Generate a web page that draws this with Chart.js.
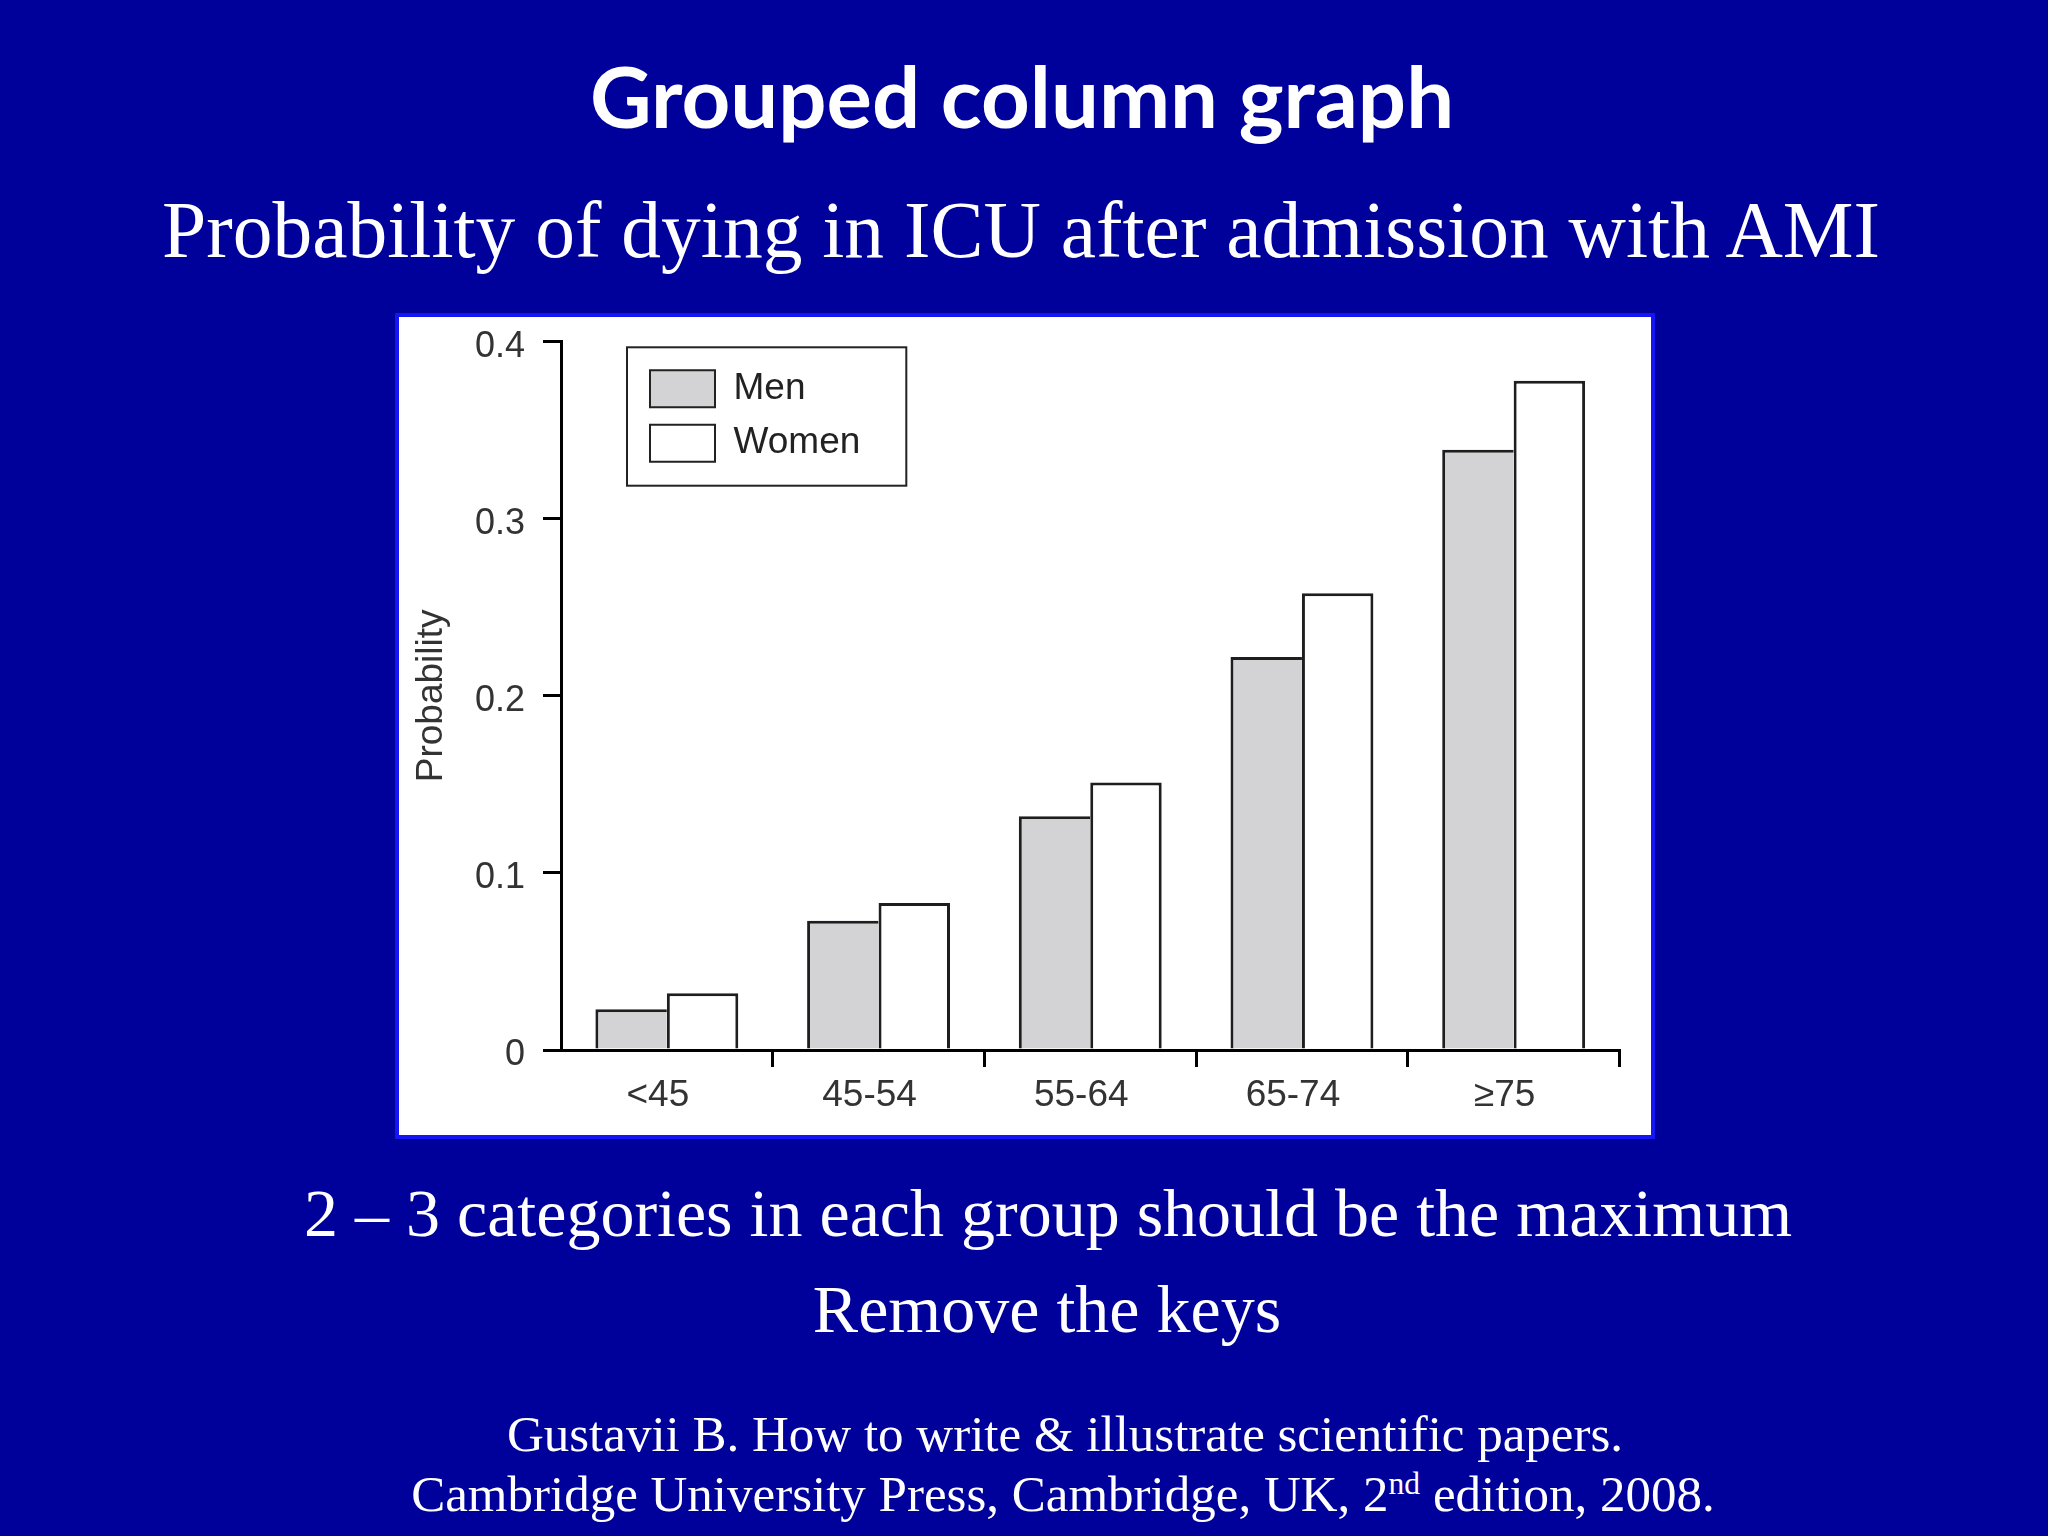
<!DOCTYPE html>
<html>
<head>
<meta charset="utf-8">
<script src="https://cdn.jsdelivr.net/npm/chart.js@4.4.1/dist/chart.umd.min.js"></script>
<style>
html,body{margin:0;padding:0;}
body{width:2048px;height:1536px;background:#00009a;position:relative;overflow:hidden;}
.t{position:absolute;width:2000px;text-align:center;color:#fff;white-space:nowrap;}
.serif{font-family:"Liberation Serif","Times New Roman",serif;}
#title{font-family:Lato,"Open Sans",sans-serif;font-weight:700;font-size:85px;line-height:85px;left:22px;top:53px;}
#sub{font-size:79.5px;line-height:80px;left:21px;top:190px;}
#l3{font-size:68px;line-height:68px;left:48px;top:1179px;}
#l4{font-size:68px;line-height:68px;left:47px;top:1275px;}
#l5{font-size:51px;line-height:52px;left:65px;top:1408px;}
#l6{font-size:51px;line-height:52px;left:63px;top:1468px;}
sup{font-size:0.62em;vertical-align:baseline;position:relative;top:-0.55em;line-height:0;}
#panel{position:absolute;left:395px;top:313px;width:1252px;height:818px;border:4px solid #1414f5;background:#fff;}
#wrap{position:relative;width:1252px;height:818px;}
</style>
</head>
<body>
<div class="t" id="title">Grouped column graph</div>
<div class="t serif" id="sub">Probability of dying in ICU after admission with AMI</div>
<div id="panel"><div id="wrap"><canvas id="c"></canvas></div></div>
<div class="t serif" id="l3">2 – 3 categories in each group should be the maximum</div>
<div class="t serif" id="l4">Remove the keys</div>
<div class="t serif" id="l5">Gustavii B. How to write &amp; illustrate scientific papers.</div>
<div class="t serif" id="l6">Cambridge University Press, Cambridge, UK, 2<sup>nd</sup> edition, 2008.</div>
<script>
const categories = ['<45', '45-54', '55-64', '65-74', '\u226575'];
const seriesNames = ['Men', 'Women'];
const menValues = [0.023, 0.073, 0.132, 0.222, 0.339];
const womenValues = [0.032, 0.083, 0.151, 0.258, 0.378];
const yTickLabels = ['0', '0.1', '0.2', '0.3', '0.4'];
const yAxisTitle = 'Probability';

const FONT = '"Liberation Sans", Arial, Helvetica, sans-serif';
Chart.defaults.font.family = FONT;

const legendFrame = {
  id: 'legendFrame',
  afterLayout(chart) {
    const lg = chart.legend, ca = chart.chartArea;
    if (!lg || !ca) return;
    lg.left = ca.left + 71.6;
    lg.top = ca.top + 11.2;
    lg.right = lg.left + lg.width;
    lg.bottom = lg.top + lg.height;
  },
  afterDraw(chart) {
    const lg = chart.legend;
    if (!lg || !lg.legendHitBoxes || !lg.legendHitBoxes.length) return;
    let l = Infinity, t = Infinity, r = -Infinity, b = -Infinity;
    lg.legendHitBoxes.forEach(h => {
      l = Math.min(l, h.left); t = Math.min(t, h.top);
      r = Math.max(r, h.left + h.width); b = Math.max(b, h.top + h.height);
    });
    const ctx = chart.ctx;
    ctx.save();
    ctx.strokeStyle = '#222';
    ctx.lineWidth = 2;
    const x0 = l - 23, y0 = t - 23, x1 = r + 46, y1 = b + 24;
    ctx.strokeRect(x0, y0, x1 - x0, y1 - y0);
    ctx.restore();
  }
};

new Chart(document.getElementById('c'), {
  type: 'bar',
  data: {
    labels: categories,
    datasets: [
      {
        label: seriesNames[0],
        data: menValues,
        backgroundColor: '#d3d3d5',
        borderColor: '#1e1e1e',
        borderWidth: {top: 3, left: 3, right: 0, bottom: 0}
      },
      {
        label: seriesNames[1],
        data: womenValues,
        backgroundColor: '#ffffff',
        borderColor: '#1e1e1e',
        borderWidth: {top: 3, left: 3, right: 3, bottom: 0}
      }
    ]
  },
  options: {
    responsive: true,
    maintainAspectRatio: false,
    animation: false,
    categoryPercentage: 0.675,
    barPercentage: 1.0,
    layout: {padding: {left: 0, top: 24.7, right: 31.5, bottom: 0}},
    plugins: {
      tooltip: {enabled: false},
      legend: {
        position: 'chartArea',
        align: 'start',
        labels: {
          boxWidth: 65,
          boxHeight: 37,
          padding: 17.4,
          color: '#222',
          font: {size: 37, family: FONT},
          generateLabels(chart) {
            return Chart.defaults.plugins.legend.labels.generateLabels(chart)
              .map(it => Object.assign(it, {lineWidth: 2, strokeStyle: '#222'}));
          }
        }
      }
    },
    scales: {
      x: {
        type: 'category',
        grid: {
          offset: true,
          drawOnChartArea: false,
          drawTicks: true,
          tickLength: 17,
          lineWidth: 3,
          color: (c) => c.index === 0 ? 'rgba(0,0,0,0)' : '#000'
        },
        border: {display: true, color: '#000', width: 3},
        ticks: {color: '#333', font: {size: 37, family: FONT}, padding: 7, labelOffset: -9, maxRotation: 0, autoSkip: false},
        afterFit(s) { s.height = 85; }
      },
      y: {
        min: 0,
        max: 0.4,
        ticks: {
          stepSize: 0.1,
          color: '#333',
          font: {size: 36, family: FONT},
          padding: 18,
          labelOffset: 5,
          callback: (v, i) => yTickLabels[i]
        },
        grid: {drawOnChartArea: false, drawTicks: true, tickLength: 18, lineWidth: 3, color: '#000'},
        border: {display: true, color: '#000', width: 3},
        title: {display: true, text: yAxisTitle, color: '#333', font: {size: 37, family: FONT}, padding: {top: 11, bottom: 0}},
        afterFit(s) { s.width = 162; s.paddingTop = 0; s.paddingBottom = 0; }
      }
    }
  },
  plugins: [legendFrame]
});
</script>
</body>
</html>
